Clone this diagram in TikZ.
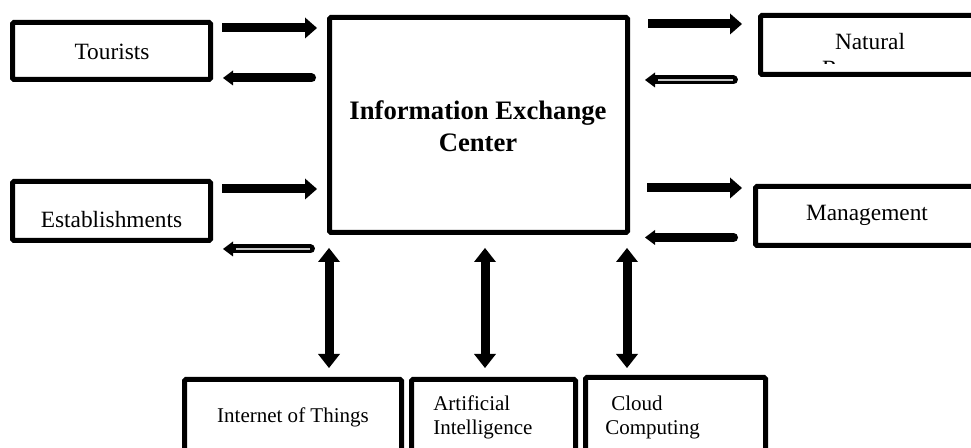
\documentclass[tikz,border=0pt]{standalone}
\usepackage{fontspec}
\setmainfont{Liberation Serif}
\usetikzlibrary{arrows.meta}
\begin{document}
\begin{tikzpicture}[x=0.75pt,y=0.75pt,
  box/.style={draw, line width=3.75pt, rounded corners=1pt, inner sep=0pt, outer sep=1.875pt},
  sidetxt/.style={inner sep=0pt, anchor=base, font=\fontsize{17.5}{21}\selectfont},
  bottxt/.style={inner sep=0pt, anchor=base west, font=\fontsize{15.75}{19}\selectfont},
  ctrtxt/.style={inner sep=0pt, anchor=base, font=\fontsize{20}{24}\selectfont\bfseries},
  fwd/.style={line width=6.75pt, -{Triangle[length=9pt,width=15.75pt,line width=0pt]}},
  ret/.style={line width=6.75pt, line cap=round, -{Triangle[length=7.5pt,width=11.25pt,line width=0pt]}},
  dbl/.style={line width=6.75pt, {Triangle[length=10.5pt,width=16.5pt,line width=0pt]}-{Triangle[length=10.5pt,width=16.5pt,line width=0pt]}},
  hollow/.style 2 args={postaction={draw=gray!45, line width=2pt, line cap=butt, -, shorten <=#1, shorten >=#2}}
]
\useasboundingbox (0,0) rectangle (971,448);
\clip (0,0) rectangle (971,448);

% boxes
\node[box, minimum width=148.5pt, minimum height=42.75pt] (tour) at (111.5,397) {};
\node[box, minimum width=148.5pt, minimum height=44.25pt] (estab) at (111.5,237) {};
\node[box, minimum width=223.5pt, minimum height=161.25pt] (iec) at (478.5,323) {};
\node[box, minimum width=164.25pt, minimum height=44.25pt] (nat) at (870,403) {};
\node[box, minimum width=167.25pt, minimum height=44.25pt] (mgmt) at (867,232) {};
\node[box, minimum width=162.75pt, minimum height=66pt] (iot) at (293,24.5) {};
\node[box, minimum width=123pt, minimum height=66pt] (ai) at (493.5,24.5) {};
\node[box, minimum width=135pt, minimum height=67.5pt] (cloud) at (675.5,25.5) {};

% texts
\node[sidetxt] (tourt) at (112,388) {Tourists};
\node[sidetxt] (estabt) at (111.5,220) {Establishments};
\node[sidetxt] (mgmtt) at (867,227) {Management};
\node[ctrtxt] (iect1) at (478,328) {Information Exchange};
\node[ctrtxt] (iect2) at (478,296) {Center};
\begin{scope}
  \clip (758,384) rectangle (971,448);
  \node[sidetxt] (natt1) at (870,398) {Natural};
  \node[sidetxt] (natt2) at (870,371) {Resources};
\end{scope}
\node[bottxt, anchor=base] (iott) at (293,25) {Internet of Things};
\node[bottxt] (ait1) at (433,37) {Artificial};
\node[bottxt] (ait2) at (433,13) {Intelligence};
\node[bottxt] (cloudt1) at (611,37) {Cloud};
\node[bottxt] (cloudt2) at (605,13) {Computing};

% connector rows
\coordinate (hT1) at (0,420);
\coordinate (hT2) at (0,370);
\coordinate (hE1) at (0,259);
\coordinate (hE2) at (0,199);
\coordinate (hN1) at (0,424);
\coordinate (hN2) at (0,368);
\coordinate (hM1) at (0,260);
\coordinate (hM2) at (0,210.5);
\coordinate (v1) at (329,0);
\coordinate (v2) at (485,0);
\coordinate (v3) at (627,0);

% left side
\draw[fwd, shorten <=6.75pt, shorten >=7.5pt] (tour.east |- hT1) -- (iec.west |- hT1);
\draw[ret, shorten <=11.6pt, shorten >=7.5pt] (iec.west |- hT2) -- (tour.east |- hT2);
\draw[fwd, shorten <=6.75pt, shorten >=7.5pt] (estab.east |- hE1) -- (iec.west |- hE1);
\draw[ret, shorten <=12.4pt, shorten >=7.5pt, hollow={12.75pt}{17.25pt}] (iec.west |- hE2) -- (estab.east |- hE2);

% right side
\draw[fwd, shorten <=13.5pt, shorten >=12pt] (iec.east |- hN1) -- (nat.west |- hN1);
\draw[ret, shorten <=18.4pt, shorten >=11.25pt, hollow={18.75pt}{21pt}] (nat.west |- hN2) -- (iec.east |- hN2);
\draw[fwd, shorten <=12.75pt, shorten >=8.25pt] (iec.east |- hM1) -- (mgmt.west |- hM1);
\draw[ret, shorten <=14.6pt, shorten >=11.25pt] (mgmt.west |- hM2) -- (iec.east |- hM2);

% vertical
\draw[dbl, shorten <=9.75pt, shorten >=6.75pt] (iec.south -| v1) -- (iot.north -| v1);
\draw[dbl, shorten <=9.75pt, shorten >=6.75pt] (iec.south -| v2) -- (ai.north -| v2);
\draw[dbl, shorten <=9.75pt, shorten >=5.25pt] (iec.south -| v3) -- (cloud.north -| v3);
\end{tikzpicture}
\end{document}
